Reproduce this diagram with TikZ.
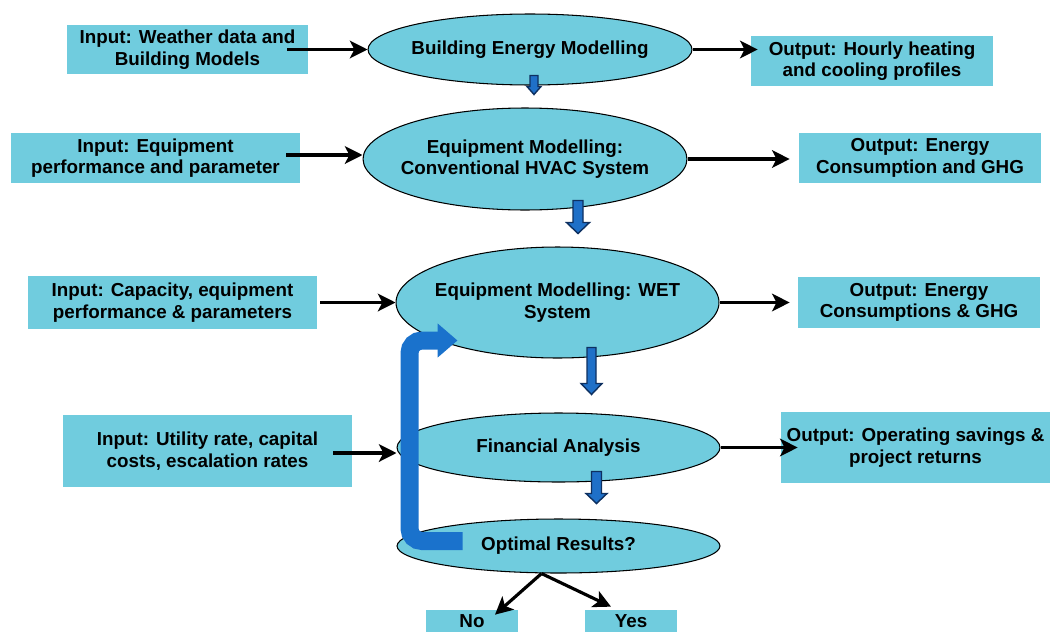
\documentclass[tikz,border=0pt]{standalone}
\usepackage{fontspec}
\setmainfont{Liberation Sans}
\usetikzlibrary{arrows.meta, calc, shapes.geometric}
\definecolor{boxcyan}{RGB}{112,204,222}
\definecolor{stepblue}{RGB}{31,112,200}
\definecolor{stepnavy}{RGB}{14,48,96}
\definecolor{loopblue}{RGB}{26,114,204}

\begin{document}
\begin{tikzpicture}[x=0.02cm, y=-0.02cm,
    iobox/.style={fill=boxcyan, inner sep=0pt, align=center, font=\fontsize{10.7}{12.2}\selectfont\bfseries},
    stage/.style={ellipse, draw=black, line width=0.6pt, fill=boxcyan, inner sep=0pt},
    stagetext/.style={inner sep=0pt, align=center, font=\fontsize{10.7}{12.2}\selectfont\bfseries},
    flow/.style={-{Stealth[length=10pt, width=10pt, inset=2.5pt]}, line width=1.8pt},
    loopback/.style={loopblue, line width=0.36cm, rounded corners=0.25cm, -{Triangle[length=0.4cm, width=0.66cm]}},
    pics/stepdown/.style n args={4}{code={
        \filldraw[fill=stepblue, draw=stepnavy, line width=0.8pt]
            (-#3,0) -- (#3,0) -- (#3,#1-#2) -- (#4,#1-#2) -- (0,#1) -- (-#4,#1-#2) -- (-#3,#1-#2) -- cycle;
    }}]
    \useasboundingbox (0,0) rectangle (1053,632);

    % modelling stages
    \node[stage, minimum width=6.48cm, minimum height=1.42cm] (bem) at (530,49.5) {};
    \node[stage, minimum width=6.48cm, minimum height=2.04cm] (hvac) at (525,159) {};
    \node[stage, minimum width=6.46cm, minimum height=2.22cm] (wet) at (557.5,302.5) {};
    \node[stage, minimum width=6.46cm, minimum height=1.38cm] (fin) at (558.5,447.5) {};
    \node[stage, minimum width=6.46cm, minimum height=1.08cm] (opt) at (558.5,546) {};

    % inputs and outputs
    \node[iobox, minimum width=4.82cm, minimum height=0.98cm] (weather) at (187.5,49.5) {Input: Weather data and\\Building Models};
    \node[iobox, minimum width=5.78cm, minimum height=1.00cm] (equip) at (155.5,158) {Input: Equipment\\performance and parameter};
    \node[iobox, minimum width=5.78cm, minimum height=1.06cm] (capacity) at (172.5,302.5) {Input: Capacity, equipment\\performance \& parameters};
    \node[iobox, minimum width=5.78cm, minimum height=1.44cm] (utility) at (207.5,451) {Input: Utility rate, capital\\costs, escalation rates};

    \node[iobox, minimum width=4.84cm, minimum height=1.00cm] (profiles) at (872,61) {Output: Hourly heating\\and cooling profiles};
    \node[iobox, minimum width=4.84cm, minimum height=1.00cm] (hvacghg) at (920,158) {Output: Energy\\Consumption and GHG};
    \node[iobox, minimum width=4.84cm, minimum height=1.02cm] (wetghg) at (919,302.5) {Output: Energy\\Consumptions \& GHG};
    \node[iobox, minimum width=5.38cm, minimum height=1.42cm] (returns) at (915.5,447.5) {Output: Operating savings \&\\project returns};

    \node[iobox, minimum width=1.84cm, minimum height=0.44cm] (no) at (472,621) {No};
    \node[iobox, minimum width=1.84cm, minimum height=0.44cm] (yes) at (631,621) {Yes};

    % inputs into stages, stages out to results
    \coordinate (equipout) at ([xshift=-0.28cm,yshift=0.06cm]equip.east);
    \coordinate (utilityout) at ([xshift=-0.38cm,yshift=-0.04cm]utility.east);
    \draw[flow] ([xshift=-0.42cm]weather.east) -- (bem.west);
    \draw[flow] (bem.east) -- ([xshift=0.14cm]bem.east -| profiles.west);
    \draw[flow] (equipout) -- (equipout -| hvac.west);
    \draw[flow] (hvac.east) -- ([xshift=-0.18cm]hvac.east -| hvacghg.west);
    \draw[flow] ([xshift=0.06cm]capacity.east) -- (wet.west);
    \draw[flow] (wet.east) -- ([xshift=-0.16cm]wet.east -| wetghg.west);
    \draw[flow] (utilityout) -- (utilityout -| fin.west);
    \draw[flow] (fin.east) -- ([xshift=0.34cm]fin.east -| returns.west);

    \coordinate (split) at ([xshift=-0.34cm]opt.south);
    \draw[flow] (split) -- ([xshift=0.46cm,yshift=-0.1cm]no.north);
    \draw[flow] (split) -- ([xshift=-0.4cm,yshift=0.06cm]yes.north);

    % steps down between stages
    \pic at ([shift={(4,-10)}]bem.south) {stepdown={19}{8}{4}{7}};
    \pic at ([shift={(53,-10)}]hvac.south) {stepdown={33}{11}{5}{11.5}};
    \pic at ([shift={(34,-11)}]wet.south) {stepdown={47}{11}{4.5}{10.5}};
    \pic at ([shift={(38,-11)}]fin.south) {stepdown={32}{10}{5}{10.5}};

    % iterate back when results are not optimal
    \draw[loopback] ([shift={(-96,-5)}]opt.center) -- ++(-53,0) |- ([shift={(-100,38)}]wet.center);

    \node[stagetext] (bemlabel) at (bem) {Building Energy Modelling};
    \node[stagetext] (hvaclabel) at (hvac) {Equipment Modelling:\\Conventional HVAC System};
    \node[stagetext] (wetlabel) at (wet) {Equipment Modelling: WET\\System};
    \node[stagetext] (finlabel) at (fin) {Financial Analysis};
    \node[stagetext] (optlabel) at (opt) {Optimal Results?};
\end{tikzpicture}
\end{document}
